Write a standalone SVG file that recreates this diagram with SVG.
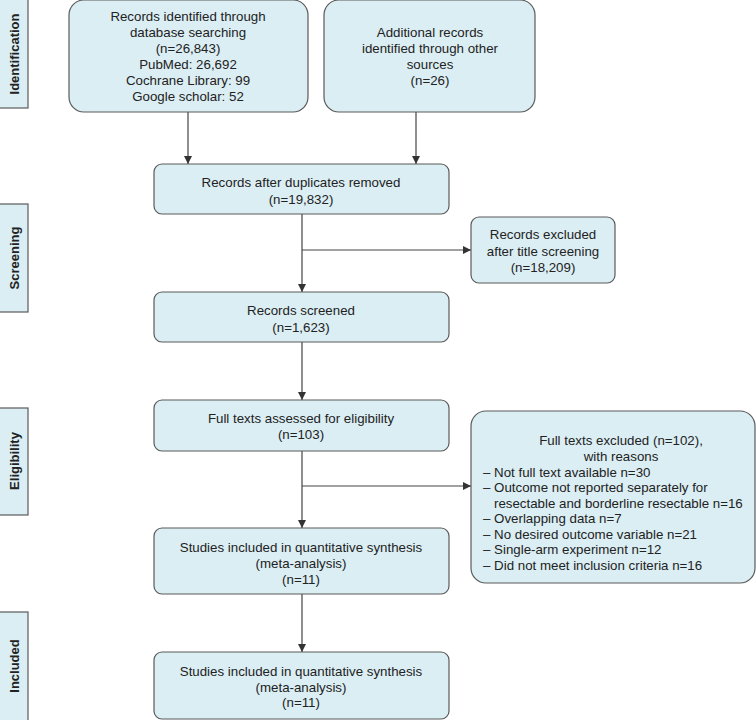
<svg xmlns="http://www.w3.org/2000/svg" width="756" height="720" viewBox="0 0 756 720">
<defs>
<style>
.box{fill:#dbeef4;stroke:#5a5a5a;stroke-width:1.2}
.side{fill:#dbeef4;stroke:#5a5a5a;stroke-width:1.2}
.t{font-family:"Liberation Sans",Arial,sans-serif;font-size:13.3px;fill:#222;text-anchor:middle}
.l{font-family:"Liberation Sans",Arial,sans-serif;font-size:13.3px;fill:#222}
.s{font-family:"Liberation Sans",Arial,sans-serif;font-size:13px;font-weight:bold;fill:#222;text-anchor:middle}
.c{stroke:#444;stroke-width:1.2;fill:none}
</style>
<marker id="ah" viewBox="0 0 10 10" refX="10" refY="5" markerWidth="8" markerHeight="8" markerUnits="userSpaceOnUse" orient="auto">
<path d="M0,0 L10,5 L0,10 z" fill="#333"/>
</marker>
</defs>
<rect width="756" height="720" fill="#fff"/>

<g id="side-identification"><rect class="side" x="-1" y="-1" width="29" height="109"/><text class="s" transform="translate(19,54) rotate(-90)">Identification</text></g>
<g id="side-screening"><rect class="side" x="-1" y="204" width="29" height="108"/><text class="s" transform="translate(19,258) rotate(-90)">Screening</text></g>
<g id="side-eligibility"><rect class="side" x="-1" y="408" width="29" height="107"/><text class="s" transform="translate(19,461) rotate(-90)">Eligibility</text></g>
<g id="side-included"><rect class="side" x="-1" y="612" width="29" height="110"/><text class="s" transform="translate(19,666) rotate(-90)">Included</text></g>

<g id="connectors">
<line class="c" x1="188" y1="112" x2="188" y2="164" marker-end="url(#ah)"/>
<line class="c" x1="416" y1="112" x2="416" y2="164" marker-end="url(#ah)"/>
<line class="c" x1="302" y1="214" x2="302" y2="292" marker-end="url(#ah)"/>
<line class="c" x1="302" y1="250" x2="471" y2="250" marker-end="url(#ah)"/>
<line class="c" x1="302" y1="342" x2="302" y2="400" marker-end="url(#ah)"/>
<line class="c" x1="302" y1="451" x2="302" y2="528" marker-end="url(#ah)"/>
<line class="c" x1="302" y1="486" x2="471" y2="486" marker-end="url(#ah)"/>
<line class="c" x1="302" y1="594" x2="302" y2="652" marker-end="url(#ah)"/>
</g>

<g id="n-db">
<rect class="box" x="69" y="0" width="239" height="112" rx="15"/>
<text class="t" x="188" y="21">Records identified through</text>
<text class="t" x="188" y="37">database searching</text>
<text class="t" x="188" y="53">(n=26,843)</text>
<text class="t" x="188" y="69">PubMed: 26,692</text>
<text class="t" x="188" y="85">Cochrane Library: 99</text>
<text class="t" x="188" y="101">Google scholar: 52</text>
</g>
<g id="n-other">
<rect class="box" x="324" y="0" width="211" height="112" rx="15"/>
<text class="t" x="430" y="37">Additional records</text>
<text class="t" x="430" y="53">identified through other</text>
<text class="t" x="430" y="69">sources</text>
<text class="t" x="430" y="85">(n=26)</text>
</g>
<g id="n-dup">
<rect class="box" x="154" y="164" width="295" height="50" rx="8"/>
<text class="t" x="301" y="187">Records after duplicates removed</text>
<text class="t" x="301" y="204">(n=19,832)</text>
</g>
<g id="n-excl-title">
<rect class="box" x="471" y="217" width="144" height="66" rx="8"/>
<text class="t" x="543" y="239">Records excluded</text>
<text class="t" x="543" y="256">after title screening</text>
<text class="t" x="543" y="272">(n=18,209)</text>
</g>
<g id="n-screened">
<rect class="box" x="154" y="292" width="295" height="50" rx="8"/>
<text class="t" x="301" y="315">Records screened</text>
<text class="t" x="301" y="332">(n=1,623)</text>
</g>
<g id="n-full">
<rect class="box" x="154" y="400" width="295" height="51" rx="8"/>
<text class="t" x="301" y="423">Full texts assessed for eligibility</text>
<text class="t" x="301" y="439">(n=103)</text>
</g>
<g id="n-excl-full">
<rect class="box" x="471" y="411" width="284" height="172" rx="15"/>
<text class="t" x="621" y="445">Full texts excluded (n=102),</text>
<text class="t" x="621" y="461">with reasons</text>
<text class="l" x="483" y="477">– Not full text available n=30</text>
<text class="l" x="483" y="492">– Outcome not reported separately for</text>
<text class="l" x="494" y="508">resectable and borderline resectable n=16</text>
<text class="l" x="483" y="523">– Overlapping data n=7</text>
<text class="l" x="483" y="539">– No desired outcome variable n=21</text>
<text class="l" x="483" y="554">– Single-arm experiment n=12</text>
<text class="l" x="483" y="570">– Did not meet inclusion criteria n=16</text>
</g>
<g id="n-incl1">
<rect class="box" x="154" y="528" width="295" height="66" rx="8"/>
<text class="t" x="301" y="552">Studies included in quantitative synthesis</text>
<text class="t" x="301" y="568">(meta-analysis)</text>
<text class="t" x="301" y="584">(n=11)</text>
</g>
<g id="n-incl2">
<rect class="box" x="154" y="652" width="295" height="67" rx="8"/>
<text class="t" x="301" y="676">Studies included in quantitative synthesis</text>
<text class="t" x="301" y="692">(meta-analysis)</text>
<text class="t" x="301" y="707">(n=11)</text>
</g>
</svg>
